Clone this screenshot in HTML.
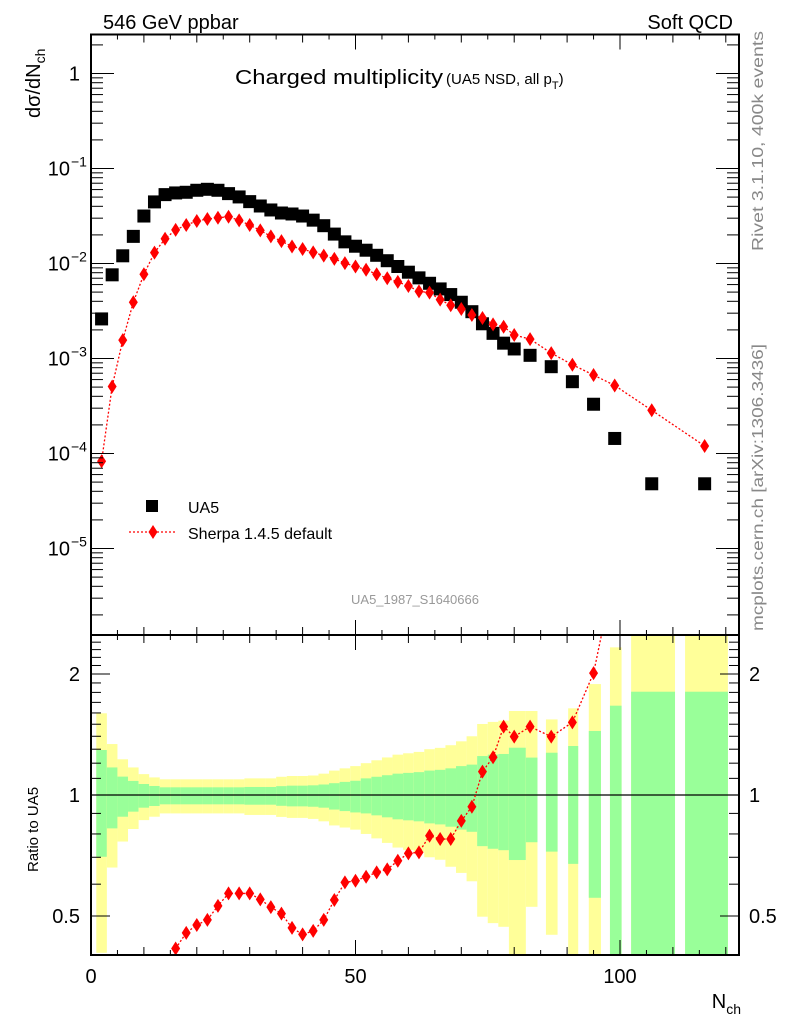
<!DOCTYPE html>
<html><head><meta charset="utf-8"><style>
html,body{margin:0;padding:0;background:#fff;width:786px;height:1024px;overflow:hidden;}
svg{display:block;font-family:"Liberation Sans","DejaVu Sans",sans-serif;}
</style></head><body>
<svg id="chart" width="786" height="1024" viewBox="0 0 786 1024">
<defs>
<clipPath id="mainClip"><rect x="91" y="34.5" width="648" height="600"/></clipPath>
<clipPath id="ratioClip"><rect x="91" y="635" width="648" height="320"/></clipPath>
</defs>
<g id="ratioBands" clip-path="url(#ratioClip)"></g>
<g id="ratioMarks" clip-path="url(#ratioClip)"></g>
<g id="mainMarks" clip-path="url(#mainClip)"></g>
<g id="axes"></g>
<text x="103" y="29" font-size="20">546 GeV ppbar</text>
<text x="733" y="29" font-size="20" text-anchor="end">Soft QCD</text>
<text x="235" y="84" font-size="20" textLength="208" lengthAdjust="spacingAndGlyphs">Charged multiplicity</text>
<text x="446" y="84" font-size="15">(UA5 NSD, all p<tspan font-size="11" dy="5">T</tspan><tspan dy="-5">)</tspan></text>
<text transform="translate(40,118) rotate(-90)" font-size="20">dσ/dN<tspan font-size="14" dy="5">ch</tspan></text>
<text transform="translate(38,872) rotate(-90)" font-size="15">Ratio to UA5</text>
<text x="741" y="1008" font-size="20" text-anchor="end">N<tspan font-size="14" dy="6">ch</tspan></text>
<text transform="translate(763,251) rotate(-90)" font-size="16" fill="#888" textLength="220" lengthAdjust="spacingAndGlyphs">Rivet 3.1.10,  400k events</text>
<text transform="translate(763,631) rotate(-90)" font-size="16" fill="#888" textLength="287" lengthAdjust="spacingAndGlyphs">mcplots.cern.ch [arXiv:1306.3436]</text>
<text x="415" y="604" font-size="13" fill="#999" text-anchor="middle">UA5_1987_S1640666</text>
<g>
<rect x="146" y="500" width="12" height="12" fill="#000"/>
<text x="188" y="513" font-size="16">UA5</text>
<line x1="129" y1="532" x2="177" y2="532" stroke="red" stroke-width="1.3" stroke-dasharray="2,2"/>
<polygon points="153,525 157.5,532 153,539 148.5,532" fill="red"/>
<text x="188" y="539" font-size="16">Sherpa 1.4.5 default</text>
</g>
</svg>
<script>
const nch = [2,4,6,8,10,12,14,16,18,20,22,24,26,28,30,32,34,36,38,40,42,44,46,48,50,52,54,56,58,60,62,64,66,68,70,72,74,76,78,80,83,87,91,95,99,106,116];
const binLo = [1,3,5,7,9,11,13,15,17,19,21,23,25,27,29,31,33,35,37,39,41,43,45,47,49,51,53,55,57,59,61,63,65,67,69,71,73,75,77,79,82.2,86,90.2,94.1,98.1,102.1,112.3];
const binHi = [3,5,7,9,11,13,15,17,19,21,23,25,27,29,31,33,35,37,39,41,43,45,47,49,51,53,55,57,59,61,63,65,67,69,71,73,75,77,79,82.2,84.4,88.2,92.1,96.4,100.3,110.4,120.4];
const ua5 = [2.61e-3,7.6e-3,1.205e-2,1.93e-2,3.16e-2,4.45e-2,5.31e-2,5.53e-2,5.62e-2,5.90e-2,6.04e-2,5.90e-2,5.44e-2,5.02e-2,4.48e-2,4.03e-2,3.66e-2,3.40e-2,3.32e-2,3.16e-2,2.86e-2,2.50e-2,2.04e-2,1.69e-2,1.52e-2,1.38e-2,1.22e-2,1.07e-2,9.3e-3,8.1e-3,7.06e-3,6.19e-3,5.40e-3,4.71e-3,3.91e-3,3.11e-3,2.32e-3,1.84e-3,1.45e-3,1.26e-3,1.08e-3,8.2e-4,5.7e-4,3.3e-4,1.44e-4,4.8e-5,4.8e-5];
const sherpa = [8.3e-5,5.07e-4,1.56e-3,3.91e-3,7.7e-3,1.30e-2,1.82e-2,2.26e-2,2.54e-2,2.80e-2,2.94e-2,3.03e-2,3.11e-2,2.84e-2,2.54e-2,2.23e-2,1.93e-2,1.72e-2,1.51e-2,1.42e-2,1.31e-2,1.21e-2,1.12e-2,1.01e-2,9.3e-3,8.6e-3,7.7e-3,7.0e-3,6.4e-3,5.8e-3,5.09e-3,4.94e-3,4.17e-3,3.63e-3,3.32e-3,2.87e-3,2.67e-3,2.29e-3,2.16e-3,1.77e-3,1.60e-3,1.14e-3,8.6e-4,6.7e-4,5.2e-4,2.85e-4,1.20e-4];
const ratio = [0.032,0.067,0.13,0.20,0.24,0.29,0.34,0.415,0.454,0.475,0.489,0.530,0.569,0.569,0.569,0.550,0.526,0.507,0.467,0.450,0.459,0.489,0.548,0.606,0.612,0.626,0.642,0.653,0.686,0.716,0.720,0.792,0.777,0.777,0.862,0.935,1.143,1.241,1.479,1.397,1.479,1.397,1.516,2.01,3.6,5.9,2.8];
const totHi = [1.597,1.339,1.227,1.171,1.127,1.106,1.094,1.094,1.094,1.094,1.094,1.094,1.094,1.094,1.100,1.100,1.100,1.110,1.115,1.115,1.118,1.13,1.15,1.165,1.18,1.20,1.22,1.24,1.26,1.27,1.28,1.30,1.31,1.33,1.36,1.40,1.502,1.52,1.531,1.618,1.618,1.542,1.643,1.888,2.33,3,3];
const statHi = [1.294,1.171,1.111,1.084,1.065,1.053,1.045,1.045,1.045,1.045,1.045,1.045,1.045,1.045,1.047,1.047,1.047,1.052,1.055,1.055,1.057,1.062,1.07,1.078,1.085,1.10,1.11,1.12,1.13,1.135,1.14,1.15,1.155,1.165,1.18,1.19,1.25,1.26,1.265,1.311,1.239,1.274,1.324,1.443,1.668,1.807,1.807];
const statLo = [0.702,0.826,0.883,0.909,0.930,0.939,0.948,0.948,0.948,0.948,0.948,0.948,0.948,0.948,0.946,0.946,0.946,0.940,0.937,0.937,0.935,0.93,0.92,0.912,0.905,0.90,0.89,0.88,0.87,0.865,0.86,0.85,0.845,0.834,0.82,0.81,0.746,0.735,0.729,0.689,0.763,0.723,0.674,0.555,0.3,0.3,0.3];
const totLo = [0.405,0.660,0.766,0.823,0.866,0.883,0.900,0.900,0.900,0.900,0.900,0.900,0.900,0.900,0.892,0.892,0.892,0.882,0.877,0.877,0.872,0.86,0.84,0.83,0.82,0.80,0.78,0.76,0.74,0.73,0.72,0.70,0.69,0.663,0.64,0.61,0.498,0.48,0.470,0.3,0.527,0.449,0.3,0.3,0.3,0.3,0.3];
const xTicks = [0,50,100];
const mainDecades = [0,-1,-2,-3,-4,-5];
const mainDecadeLabels = ['1','10','10','10','10','10'];
const ratioTicks = [0.5,1,2];
const ratioTickLabels = ['0.5','1','2'];

const NS='http://www.w3.org/2000/svg';
const L=91,R=739,MT=34.5,MB=635,RT=635,RB=955;
function xs(n){return L+5.29*n;}
function ym(v){return 73.5-95*Math.log10(v);}
function yr(r){return 795-121*Math.log2(r);}
function mk(tag,attrs,parent){const e=document.createElementNS(NS,tag);for(const k in attrs)e.setAttribute(k,attrs[k]);parent.appendChild(e);return e;}

const bands=document.getElementById('ratioBands');
for(let i=0;i<nch.length;i++){
  const x1=xs(binLo[i]),x2=xs(binHi[i]);
  const t=mk('rect',{x:x1,y:yr(totHi[i]),width:x2-x1,height:yr(totLo[i])-yr(totHi[i]),fill:'#ffff99'},bands);
  
  
  const s=mk('rect',{x:x1,y:yr(statHi[i]),width:x2-x1,height:yr(statLo[i])-yr(statHi[i]),fill:'#99ff99'},bands);
  
  
}
const refLine=mk('line',{x1:L,x2:R,y1:yr(1),y2:yr(1),stroke:'#000','stroke-width':1.3},bands);



function diamond(parent,x,y){return mk('polygon',{points:`${x},${y-7} ${x+4.5},${y} ${x},${y+7} ${x-4.5},${y}`,fill:'red'},parent);}

const rm=document.getElementById('ratioMarks');
const rpl=mk('polyline',{points:nch.map((n,i)=>xs(n)+','+yr(ratio[i])).join(' '),fill:'none',stroke:'red','stroke-width':1.3,'stroke-dasharray':'2,2'},rm);


nch.forEach((n,i)=>{const d=diamond(rm,xs(n),yr(ratio[i]));

});

const mm=document.getElementById('mainMarks');
const spl=mk('polyline',{points:nch.map((n,i)=>xs(n)+','+ym(sherpa[i])).join(' '),fill:'none',stroke:'red','stroke-width':1.3,'stroke-dasharray':'2,2'},mm);


nch.forEach((n,i)=>{
  const sq=mk('rect',{x:xs(n)-6.5,y:ym(ua5[i])-6.5,width:13,height:13,fill:'#000'},mm);
  
  
});
nch.forEach((n,i)=>{const d=diamond(mm,xs(n),ym(sherpa[i]));

});

const ax=document.getElementById('axes');
function ln(x1,y1,x2,y2,w){return mk('line',{x1,y1,x2,y2,stroke:'#000','stroke-width':w||1},ax);}
const f1=mk('rect',{x:L,y:MT,width:R-L,height:MB-MT,fill:'none',stroke:'#000','stroke-width':2},ax);


const f2=mk('rect',{x:L,y:RT,width:R-L,height:RB-RT,fill:'none',stroke:'#000','stroke-width':2},ax);


for(let n=0;n<=120;n+=5){
  const len=(n%50===0)?15:(n%10===0?8:5);
  const x=xs(n);
  ln(x,MT,x,MT+len);ln(x,MB,x,MB-len);ln(x,RT,x,RT+len);ln(x,RB,x,RB-len);
}
xTicks.forEach(n=>{const t=mk('text',{x:xs(n),y:983,'font-size':20,'text-anchor':'middle'},ax);t.textContent=String(n);

});
for(let d=1;d>=-6;d--){
  for(let m=1;m<=9;m++){
    const v=m*Math.pow(10,d);const y=ym(v);
    if(y<MT||y>MB)continue;
    const len=m===1?23:12;
    ln(L,y,L+len,y);ln(R,y,R-len,y);
  }
}
mainDecades.forEach((d,i)=>{
  const y=ym(Math.pow(10,d));
  const t=mk('text',{x:d===0?80:70,y:y+7,'font-size':20,'text-anchor':'end'},ax);t.textContent=mainDecadeLabels[i];
  
  
  if(d!==0){const e=mk('text',{x:71,y:y-2,'font-size':14},ax);e.textContent='\u2212'+(-d);
  
  }
});
for(let r=0.4;r<=2.55;r+=0.1){
  const rr=Math.round(r*10)/10;const y=yr(rr);
  if(y<RT||y>RB)continue;
  const len=(rr===0.5||rr===1||rr===2)?19:10;
  ln(L,y,L+len,y);ln(R,y,R-len,y);
}
ratioTicks.forEach((r,i)=>{
  const y=yr(r);
  const t=mk('text',{x:80,y:y+7,'font-size':20,'text-anchor':'end'},ax);t.textContent=ratioTickLabels[i];
  
  
  const t2=mk('text',{x:749,y:y+7,'font-size':20},ax);t2.textContent=ratioTickLabels[i];
  
  
});
</script>
</body></html>
